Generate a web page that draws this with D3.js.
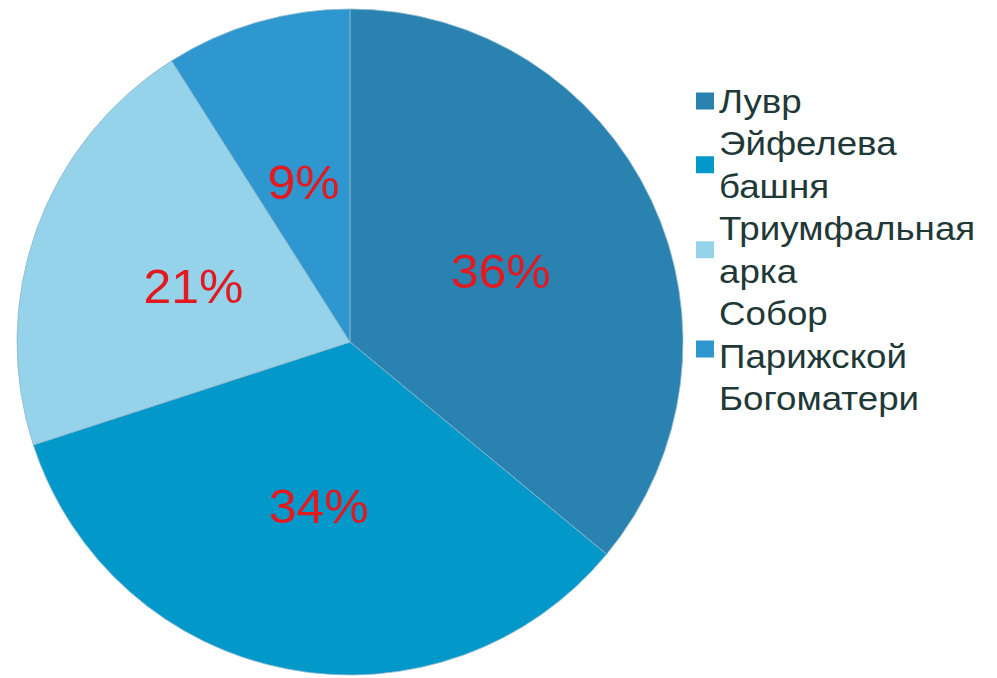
<!DOCTYPE html>
<html>
<head>
<meta charset="utf-8">
<script src="https://d3js.org/d3.v7.min.js"></script>
<style>
  html, body { margin: 0; padding: 0; background: #ffffff; }
  svg { display: block; }
</style>
</head>
<body>
<svg id="chart" width="997" height="678"></svg>
<script>
// Visitor shares of Paris landmarks
const categories = ["Лувр", "Эйфелева башня", "Триумфальная арка", "Собор Парижской Богоматери"];
const values = [36, 34, 21, 9];
const colors = ["#2a82b0", "#0298ca", "#94d3ea", "#2e97cf"];
// Legend labels as they wrap in the legend box
const legendLines = [["Лувр"], ["Эйфелева", "башня"], ["Триумфальная", "арка"], ["Собор", "Парижской", "Богоматери"]];

const svg = d3.select("#chart");
const cx = 350, cy = 342, radius = 333;

const pie = d3.pie().sort(null).value(d => d)(values);
const arc = d3.arc().innerRadius(0).outerRadius(radius);
const labelArc = d3.arc().innerRadius(radius * 0.5).outerRadius(radius * 0.5);

const g = svg.append("g").attr("transform", `translate(${cx},${cy})`);

g.selectAll("path.slice")
  .data(pie)
  .join("path")
  .attr("class", "slice")
  .attr("d", arc)
  .attr("fill", (d, i) => colors[i])
  .attr("stroke", "#8fb8cc")
  .attr("stroke-width", 0.8);

g.selectAll("text.pct")
  .data(pie)
  .join("text")
  .attr("class", "pct")
  .attr("transform", d => { const [x, y] = labelArc.centroid(d); return `translate(${x},${y}) scale(1.04,1)`; })
  .attr("text-anchor", "middle")
  .attr("dy", "0.36em")
  .attr("font-family", "Liberation Sans, Arial, sans-serif")
  .attr("font-size", 48)
  .attr("fill", "#e3191f")
  .text(d => d.data + "%");

// Legend
const legend = svg.append("g").attr("font-family", "Liberation Sans, Arial, sans-serif");
const lineH = 42.5;
const firstCenter = 101;
let lineIdx = 0;
categories.forEach((c, i) => {
  const lines = legendLines[i];
  const startIdx = lineIdx;
  lines.forEach((t, j) => {
    legend.append("text")
      .attr("transform", `translate(719,${firstCenter + (startIdx + j) * lineH}) scale(1.08,1)`)
      .attr("dy", "0.35em")
      .attr("font-size", 34)
      .attr("fill", "#1f3838")
      .text(t);
  });
  const midCenter = firstCenter + (startIdx + (lines.length - 1) / 2) * lineH;
  legend.append("rect")
    .attr("x", 696)
    .attr("y", midCenter - 8.5 + (lines.length === 3 ? -7 : 0))
    .attr("width", 18)
    .attr("height", 17)
    .attr("fill", colors[i]);
  lineIdx += lines.length;
});
</script>
</body>
</html>
